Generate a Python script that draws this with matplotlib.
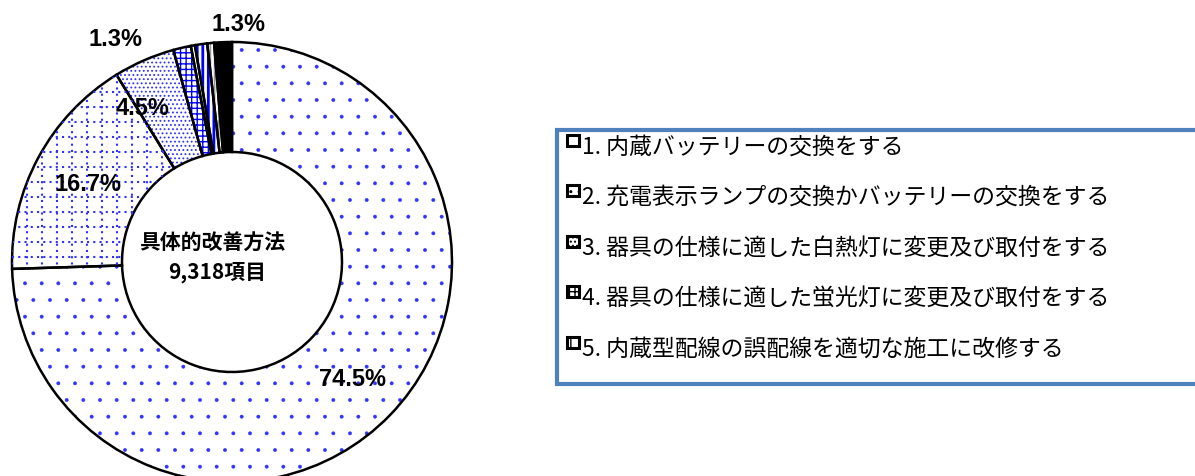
import numpy as np
import matplotlib.pyplot as plt
from matplotlib.patches import Rectangle
from matplotlib.lines import Line2D

# slice shares (clockwise from 12 o'clock)
shares = [74.5, 16.7, 4.5, 1.3, 0.3, 0.9, 0.5, 1.3]
pct_labels = ['74.5%', '16.7%', '4.5%', '1.3%', '', '', '', '1.3%']

legend_labels = [
    '1. 内蔵バッテリーの交換をする',
    '2. 充電表示ランプの交換かバッテリーの交換をする',
    '3. 器具の仕様に適した白熱灯に変更及び取付をする',
    '4. 器具の仕様に適した蛍光灯に変更及び取付をする',
    '5. 内蔵型配線の誤配線を適切な施工に改修する',
]
center_title = '具体的改善方法'
center_total = '9,318項目'

BLUE = '#0000ff'
DOT = '#3030ff'
face_cols = ['white', 'white', 'white', 'white', 'white', 'white', 'white', 'black']
hatch_cols = [DOT, BLUE, DOT, BLUE, 'white', BLUE, '#999999', 'black']
hatches = ['.', None, '....', '+++', None, '|||', '||||', None]
hatch_lw = [0.3, 1.0, 0.8, 1.0, 1.0, 2.0, 1.2, 1.0]

plt.rcParams['hatch.linewidth'] = 0.3

W, H = 1195, 476
fig = plt.figure(figsize=(W / 100, H / 100), dpi=100)

# pie axes: centre (232, 262) px, outer radius 220 px
cx, cy, R = 232, 262, 220
ax = fig.add_axes([(cx - R) / W, (H - cy - R) / H, 2 * R / W, 2 * R / H])

wedges, _ = ax.pie(shares, startangle=90, counterclock=False, radius=1,
                   colors=face_cols, wedgeprops=dict(width=0.5, linewidth=0))
for w, hc, ht, hl in zip(wedges, hatch_cols, hatches, hatch_lw):
    w.set_edgecolor(hc)
    w.set_linewidth(0)
    if hasattr(w, 'set_hatchcolor'):
        w.set_hatchcolor(hc)
    if hasattr(w, 'set_hatch_linewidth'):
        w.set_hatch_linewidth(hl)
    if ht:
        w.set_hatch(ht)

# dotted grid texture for the 16.7% slice
step = 15 / R
grid_w = wedges[1]
for v in np.arange(-1, 1, step):
    for xs, ys in (([v, v], [-1, 1]), ([-1, 1], [v, v])):
        ln = Line2D(xs, ys, color=DOT, lw=1.5, linestyle=(0, (1.0, 2.0)))
        ax.add_line(ln)
        ln.set_clip_path(grid_w)

# black outlines
ax.pie(shares, startangle=90, counterclock=False, radius=1,
       wedgeprops=dict(width=0.5, fill=False, edgecolor='black', linewidth=1.8))
ax.set_xlim(-1, 1)
ax.set_ylim(-1, 1)
ax.axis('off')

# percentage labels: (radius, angle tweak in degrees)
label_place = {0: (0.765, 0), 1: (0.742, 0), 2: (0.81, 6.7), 3: (1.14, 14.5), 7: (1.08, -3.8)}
for i, txt in enumerate(pct_labels):
    if not txt:
        continue
    r, dt = label_place[i]
    w = wedges[i]
    ang = np.deg2rad((w.theta1 + w.theta2) / 2 + dt)
    ax.text(r * np.cos(ang), r * np.sin(ang), txt, ha='center', va='center',
            fontsize=17, fontweight='bold',
            family=['Liberation Sans', 'DejaVu Sans'])

ax.text(-0.09, 0.09, center_title, ha='center', va='center', fontsize=15,
        fontweight='bold', style='italic', family=['Noto Sans CJK JP', 'DejaVu Sans'])
ax.text(-0.068, -0.045, center_total, ha='center', va='center', fontsize=15,
        fontweight='bold', style='italic', family=['Noto Sans CJK JP', 'DejaVu Sans'])

# legend box
fig.patches.append(Rectangle((557 / W, (H - 384) / H), (W + 20 - 557) / W, 254 / H,
                             transform=fig.transFigure, facecolor='white',
                             edgecolor='#4f81bd', linewidth=3, zorder=0))

leg_hatch = ['.', '..', '....', '+++', '||']
row_y = [147, 197, 248, 298, 349]
for lab, y, hc in zip(legend_labels, row_y, leg_hatch):
    sq = Rectangle((567 / W, (H - y + 1) / H), 12 / W, 11 / H, transform=fig.transFigure,
                   facecolor='white', edgecolor='black', linewidth=2.2, hatch=hc, zorder=3)
    if hasattr(sq, 'set_hatchcolor'):
        sq.set_hatchcolor(BLUE)
    if hasattr(sq, 'set_hatch_linewidth'):
        sq.set_hatch_linewidth(1.0)
    fig.patches.append(sq)
    fig.text(582 / W, (H - y) / H, lab, ha='left', va='center', fontsize=16.5,
             family=['Noto Sans CJK JP', 'DejaVu Sans'])

fig.savefig('out.png', dpi=100)
